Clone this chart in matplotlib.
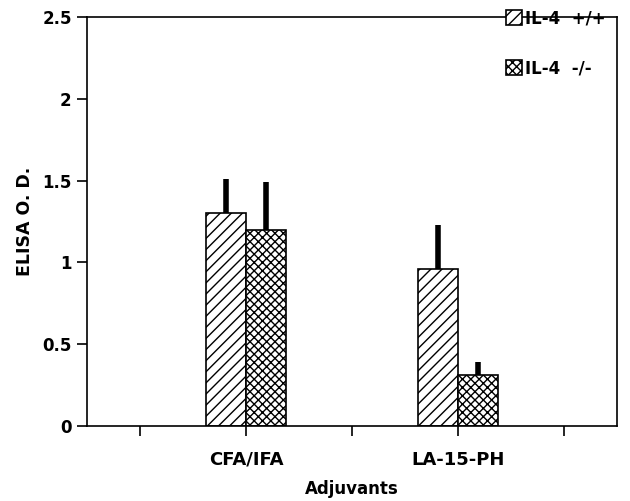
import numpy as np
import matplotlib
matplotlib.use("Agg")
import matplotlib.pyplot as plt

plt.rcParams['font.family'] = ['DejaVu Sans']
plt.rcParams['font.weight'] = 'bold'
plt.rcParams['hatch.linewidth'] = 1.0

# data
groups = ["CFA/IFA", "LA-15-PH"]
group_pos = [2, 4]
wt_mean = [1.30, 0.96]
wt_err = [0.21, 0.27]
ko_mean = [1.20, 0.31]
ko_err = [0.29, 0.08]
series_labels = ["IL-4  +/+", "IL-4  -/-"]

fig = plt.figure(figsize=(6.3, 5.01), dpi=100)
ax = fig.add_axes([0.138, 0.150, 0.841, 0.816])

w = 0.38
x = np.array(group_pos, dtype=float)
ax.bar(x - w, wt_mean, w, align='edge', color='white', edgecolor='black',
       linewidth=1.2, hatch='///', label=series_labels[0])
ax.bar(x, ko_mean, w, align='edge', color='white', edgecolor='black',
       linewidth=1.2, hatch='xxxx', label=series_labels[1])

# one-sided thick error bars
ax.errorbar(x - w / 2, wt_mean, yerr=[np.zeros(2), wt_err], fmt='none',
            ecolor='black', elinewidth=4, capsize=0)
ax.errorbar(x + w / 2, ko_mean, yerr=[np.zeros(2), ko_err], fmt='none',
            ecolor='black', elinewidth=4, capsize=0)

ax.set_xlim(0.5, 5.5)
ax.set_ylim(0, 2.5)
ax.set_xticks([1, 2, 3, 4, 5])
ax.set_xticklabels(["", groups[0], "", groups[1], ""])
ax.set_yticks([0, 0.5, 1, 1.5, 2, 2.5])
ax.set_yticklabels(["0", "0.5", "1", "1.5", "2", "2.5"])
ax.tick_params(axis='both', direction='out', length=7, width=1.2, pad=4)
ax.tick_params(axis='y', labelsize=12)
ax.tick_params(axis='x', labelsize=13, pad=11)
for s in ax.spines.values():
    s.set_linewidth(1.2)

ax.set_xlabel("Adjuvants", fontsize=12, fontweight='bold', labelpad=8)
ax.set_ylabel("ELISA O. D.", fontsize=12.5, fontweight='bold', labelpad=6)

ax.legend(loc='upper left', bbox_to_anchor=(0.803, 0.982),
          bbox_transform=fig.transFigure, frameon=False,
          fontsize=12, handlelength=0.95, handleheight=1.0, handletextpad=0.2,
          labelspacing=1.95, borderpad=0.0, borderaxespad=0.0)

fig.savefig("out.png", dpi=100)
